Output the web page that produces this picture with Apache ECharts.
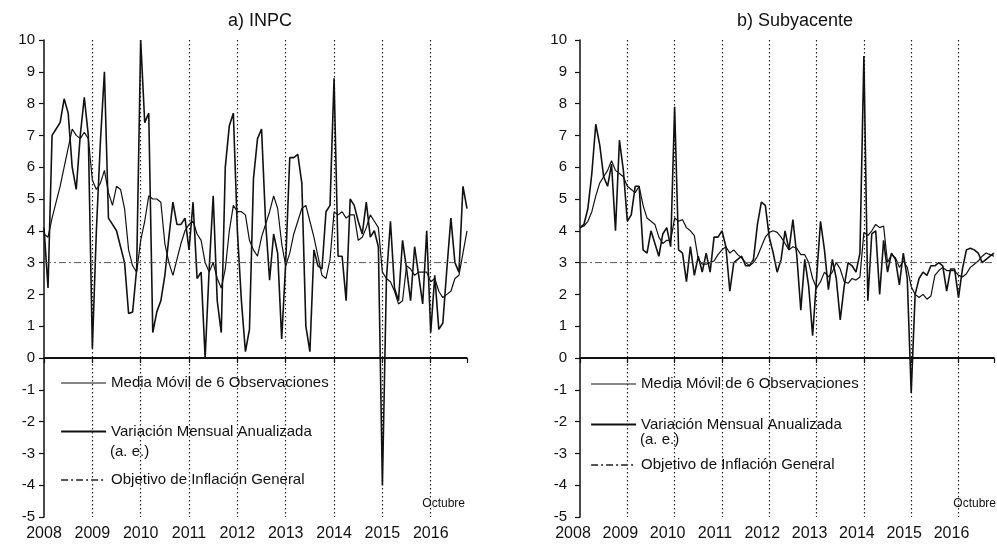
<!DOCTYPE html>
<html>
<head>
<meta charset="utf-8">
<title>INPC y Subyacente</title>
<script src="https://cdn.jsdelivr.net/npm/echarts@6/dist/echarts.min.js"></script>
<style>
  html, body { margin: 0; padding: 0; background: #fff; }
  #main { width: 997px; height: 552px; }
</style>
</head>
<body>
<div id="main"></div>
<script>
// meses de ene-2008 a oct-2016 (106 observaciones)
const inicio = 2008;
const fin = 2008 + 105 / 12;
const metaInflacion = 3;

const NOMBRE_MEDIA = 'Media Móvil de 6 Observaciones';
const NOMBRE_MENSUAL = 'Variación Mensual Anualizada';
const NOMBRE_META = 'Objetivo de Inflación General';

// a) INPC
const inpcMensual = [
  4.1, 2.2, 7.0, 7.2, 7.4, 8.15, 7.7, 6.0, 5.3, 7.0, 8.2, 7.0,
  0.3, 4.0, 6.8, 9.0, 4.4, 4.2, 4.0, 3.5, 3.0, 1.4, 1.45, 2.8,
  10.0, 7.4, 7.7, 0.8, 1.45, 1.8, 2.6, 3.8, 4.9, 4.2, 4.2, 4.4,
  3.4, 4.9, 2.5, 2.7, 0.0, 2.8, 5.1, 1.8, 0.8, 6.0, 7.3, 7.7,
  4.0, 1.8, 0.2, 0.9, 5.65, 6.9, 7.2, 4.3, 2.45, 3.9, 3.3, 0.6,
  3.0, 6.3, 6.3, 6.4, 5.5, 1.0, 0.2, 3.4, 2.9, 2.8, 4.6, 4.8,
  8.8, 3.2, 3.2, 1.8, 5.0, 4.8, 4.3, 3.9, 4.9, 3.8, 4.0, 3.5,
  -4.0, 2.5, 4.3, 2.2, 1.8, 3.7, 2.8, 1.8, 3.5, 2.6, 1.7, 4.0,
  0.8, 2.6, 0.9, 1.1, 2.8, 4.4, 3.0, 2.7, 5.4, 4.7
];
const inpcMedia = [
  3.9, 3.8, 4.4, 4.9, 5.4, 6.0, 6.6, 7.2, 7.0, 6.9, 7.1, 6.9,
  5.6, 5.3, 5.5, 5.9, 5.2, 4.8, 5.4, 5.3, 4.7, 3.4, 2.9, 2.7,
  3.7, 4.3, 5.1, 5.0, 5.0, 4.9, 3.6, 3.0, 2.6, 3.1, 3.6, 4.0,
  4.2, 4.3, 3.9, 3.7, 3.0, 2.7, 3.0, 2.5, 2.2, 2.8, 4.0, 4.8,
  4.6, 4.6, 4.5, 3.7, 3.4, 3.2, 3.8, 4.2, 4.6, 5.1, 4.7, 3.6,
  2.9, 3.3, 3.9, 4.3, 4.7, 4.8, 4.3, 3.8, 3.2, 2.6, 2.5, 3.1,
  4.6, 4.5, 4.6, 4.4, 4.5, 4.5, 3.7, 3.8, 4.1, 4.5, 4.3, 4.1,
  2.7, 2.5, 2.4, 2.1, 1.7, 1.8, 2.9, 2.8, 2.6, 2.7, 2.7, 2.7,
  2.4, 2.5, 2.1, 1.9, 2.0, 2.1, 2.5, 2.6, 3.3, 4.0
];

// b) Subyacente
const subMensual = [
  4.1, 4.2, 4.7, 5.8, 7.35, 6.7, 5.7, 5.4, 6.1, 4.0, 6.85, 5.9,
  4.3, 4.5, 5.4, 5.4, 3.4, 3.3, 4.0, 3.6, 3.2, 3.9, 4.1, 3.5,
  7.9, 3.4, 3.3, 2.4, 3.5, 2.6, 3.2, 2.7, 3.3, 2.7, 3.8, 3.8,
  4.0, 3.5, 2.1, 3.0, 3.1, 3.2, 2.9, 2.9, 3.1, 4.2, 4.9, 4.8,
  3.8, 3.3, 2.7, 3.1, 4.0, 3.4, 4.35, 3.2, 1.5, 3.1, 2.25, 0.7,
  2.5, 4.3, 3.4, 2.15, 3.1, 2.5, 1.2, 2.25, 3.0, 2.9, 2.7, 3.3,
  9.5, 1.8, 3.9, 4.0, 2.0, 3.7, 2.7, 3.3, 3.1, 2.3, 3.3, 2.5,
  -1.1, 2.0, 2.5, 2.7, 2.6, 2.9, 2.9, 3.0, 2.9, 2.1, 2.8, 2.8,
  1.9, 2.8, 3.4, 3.45, 3.4, 3.3, 3.0, 3.1, 3.2, 3.3
];
const subMedia = [
  4.1, 4.15, 4.3, 4.6, 5.1, 5.5, 5.7, 5.9, 6.2, 5.9, 5.8, 5.7,
  5.4, 5.3, 5.2, 5.4, 4.8, 4.4, 4.3, 4.2, 3.8, 3.6, 3.7, 3.7,
  4.4, 4.3, 4.35, 4.1, 4.0, 3.85, 3.1, 2.95, 2.95, 3.0, 3.05, 3.25,
  3.4, 3.5, 3.3, 3.4, 3.25, 3.15, 3.0, 2.9, 3.0, 3.2, 3.5, 3.8,
  3.95, 4.0, 3.95, 3.8, 3.6, 3.4, 3.5, 3.45, 3.25, 3.25, 3.0, 2.5,
  2.2, 2.4, 2.7, 2.55, 2.7, 3.0, 2.8, 2.4, 2.35, 2.5, 2.45, 2.55,
  3.95, 3.85, 4.0, 4.2, 4.1, 4.15, 3.0, 3.25, 3.15, 2.85, 3.05, 2.85,
  2.25, 2.0, 1.9, 2.0, 1.85, 1.95, 2.6, 2.75, 2.85, 2.75, 2.75, 2.75,
  2.6, 2.55, 2.65, 2.85, 2.95, 3.05, 3.2, 3.3, 3.25, 3.2
];

const conFecha = arr => arr.map((v, i) => [inicio + i / 12, v]);

const fuente = 'Liberation Sans, Arial, sans-serif';
const negro = '#111';

function ejeX(idx, corrimiento) {
  return {
    type: 'value', gridIndex: idx, min: inicio, max: fin, interval: 1,
    axisLine: { lineStyle: { color: negro, width: 1.5 } },
    axisTick: { show: true, length: 5, lineStyle: { color: negro, width: 1.2 } },
    axisLabel: {
      color: negro, fontSize: 16, fontFamily: fuente, margin: 9,
      padding: [0, corrimiento, 0, 0],
      formatter: v => Number.isInteger(v) ? String(v) : ''
    },
    splitLine: {
      show: true, showMinLine: false, showMaxLine: false,
      lineStyle: { color: '#222', width: 1.2, type: [1.5, 2.5] }
    }
  };
}

function ejeY(idx, margen) {
  return {
    type: 'value', gridIndex: idx, min: -5, max: 10, interval: 1,
    axisLine: { show: true, lineStyle: { color: negro, width: 1.5 } },
    axisTick: { show: true, length: 5, lineStyle: { color: negro, width: 1.2 } },
    axisLabel: { color: negro, fontSize: 15, fontFamily: fuente, margin: margen },
    splitLine: { show: false }
  };
}

function series(idx, mensual, media) {
  return [
    {
      name: NOMBRE_MEDIA, type: 'line', xAxisIndex: idx, yAxisIndex: idx,
      data: conFecha(media), symbol: 'none', silent: true,
      itemStyle: { color: negro },
      lineStyle: { color: negro, width: 1.2 }
    },
    {
      name: NOMBRE_MENSUAL, type: 'line', xAxisIndex: idx, yAxisIndex: idx,
      data: conFecha(mensual), symbol: 'none', silent: true,
      itemStyle: { color: negro },
      lineStyle: { color: negro, width: 1.6 },
      markLine: {
        silent: true, symbol: 'none', label: { show: false },
        lineStyle: { color: negro, width: 2, type: 'solid' },
        data: [{ yAxis: 0 }]
      }
    },
    {
      name: NOMBRE_META, type: 'line', xAxisIndex: idx, yAxisIndex: idx,
      data: [[inicio, metaInflacion], [fin, metaInflacion]], symbol: 'none', silent: true,
      itemStyle: { color: '#555' },
      lineStyle: { color: '#555', width: 1, type: [7, 3, 2, 3] }
    }
  ];
}

function leyenda(left, top, gap) {
  return {
    orient: 'vertical', left: left, top: top, itemWidth: 45, itemHeight: 12,
    itemGap: gap, selectedMode: false,
    itemStyle: { opacity: 0 },
    data: [
      { name: NOMBRE_MEDIA, lineStyle: { width: 1.2 } },
      { name: NOMBRE_MENSUAL, lineStyle: { width: 2.2 } },
      { name: NOMBRE_META }
    ],
    textStyle: { color: negro, fontSize: 15, fontFamily: fuente, lineHeight: 20, padding: 0 }
  };
}

function texto(x, y, t, size, align) {
  return {
    type: 'text', x: x, y: y,
    style: { text: t, align: align, verticalAlign: 'middle', fontSize: size, fontFamily: fuente, fill: negro }
  };
}

const chart = echarts.init(document.getElementById('main'), null, { renderer: 'canvas' });
chart.setOption({
  backgroundColor: '#fff',
  animation: false,
  title: [
    { text: 'a) INPC', left: 255, top: 7, textAlign: 'center',
      textStyle: { fontFamily: fuente, fontSize: 18, fontWeight: 'normal', color: negro } },
    { text: 'b) Subyacente', left: 790, top: 7, textAlign: 'center',
      textStyle: { fontFamily: fuente, fontSize: 18, fontWeight: 'normal', color: negro } }
  ],
  grid: [
    { left: 44, top: 40, width: 423, height: 477 },
    { left: 580, top: 40, width: 420, height: 477 }
  ],
  xAxis: [ejeX(0, 0), ejeX(1, 14)],
  yAxis: [ejeY(0, 9), ejeY(1, 13)],
  legend: [leyenda(55, 368, 28.5), leyenda(585, 369, 20.5)],
  series: [...series(0, inpcMensual, inpcMedia), ...series(1, subMensual, subMedia)],
  graphic: [
    texto(110, 452, '(a. e.)', 15, 'left'),
    texto(640, 440, '(a. e.)', 15, 'left'),
    texto(465, 504, 'Octubre', 12, 'right'),
    texto(996, 504, 'Octubre', 12, 'right')
  ]
});
</script>
</body>
</html>
